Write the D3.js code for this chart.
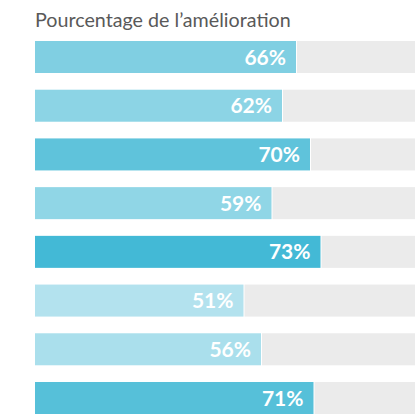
<!DOCTYPE html>
<html><head><meta charset="utf-8">
<script src="https://cdn.jsdelivr.net/npm/d3@7"></script>
<style>html,body{margin:0;padding:0;background:#fff;}svg{display:block;}</style>
</head><body>
<script>
const title = "Pourcentage de l\u2019amélioration";
const categories = ["A","B","C","D","E","F","G","H"];
const values = [66, 62, 70, 59, 73, 51, 56, 71];

const W = 415, H = 415;
const svg = d3.select("body").append("svg").attr("width", W).attr("height", H);

const left = 35, right = 415;
const x = d3.scaleLinear().domain([0, 100]).range([65, 415]);
const y = d3.scaleBand().domain(categories).range([41, 414]).paddingInner(0.343).paddingOuter(0);
const color = d3.scaleLinear()
  .domain([51, 56, 59, 62, 66, 70, 73])
  .range(["#b3e2ee", "#aadfec", "#90d6e6", "#8cd4e5", "#80cfe2", "#5fc3db", "#43b9d6"]);

svg.append("text").attr("x", left).attr("y", 26.5)
  .attr("font-family", "Lato").attr("font-size", 19.7).attr("fill", "#595959")
  .text(title);

const g = svg.append("g").selectAll("g").data(categories).join("g");
g.append("rect").attr("x", (d,i) => x(values[i]) + 1).attr("y", d => y(d))
  .attr("width", (d,i) => right - x(values[i]) - 1).attr("height", y.bandwidth()).attr("fill", "#ebebeb");
g.append("rect").attr("x", left).attr("y", d => y(d))
  .attr("width", (d,i) => x(values[i]) - left).attr("height", y.bandwidth())
  .attr("fill", (d,i) => color(values[i]));
g.append("text").attr("x", (d,i) => x(values[i]) - 10).attr("y", d => y(d) + y.bandwidth()/2)
  .attr("dy", "0.36em").attr("text-anchor", "end")
  .attr("font-family", "Lato").attr("font-weight", "bold").attr("font-size", 21).attr("fill", "#fff")
  .text((d,i) => values[i] + "%");
</script>
</body></html>
